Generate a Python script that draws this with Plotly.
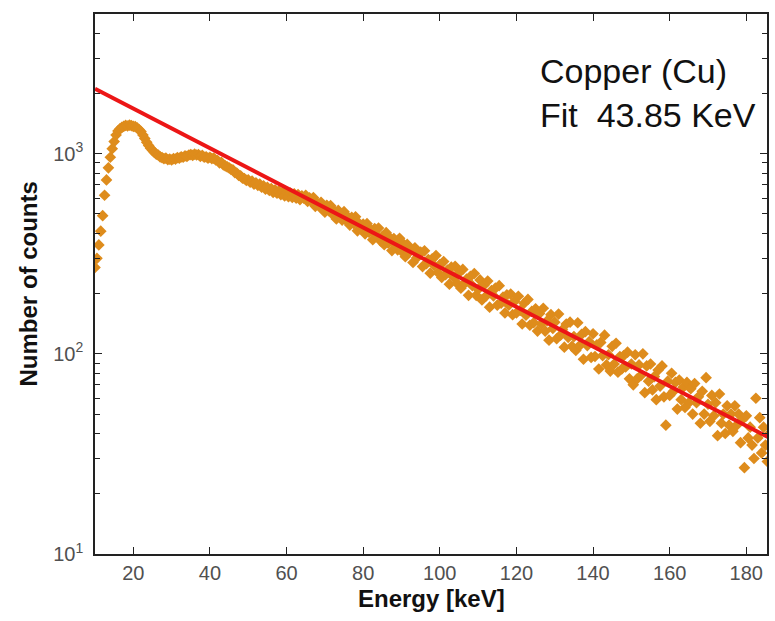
import plotly.graph_objects as go

# ---- data ----
energy_start = 10.0
energy_step = 0.5
counts = [
    270, 300, 350, 410, 490, 620, 740, 850, 960, 1060,
    1150, 1240, 1300, 1330, 1355, 1370, 1385, 1375, 1390, 1380,
    1370, 1365, 1345, 1320, 1290, 1240, 1190, 1140, 1100, 1065,
    1040, 1015, 995, 985, 965, 955, 945, 950, 935, 940,
    930, 945, 940, 955, 950, 965, 960, 975, 970, 985,
    990, 980, 995, 985, 990, 970, 980, 960, 965, 950,
    960, 945, 950, 930, 925, 900, 905, 880, 870, 860,
    850, 835, 830, 805, 800, 780, 775, 755, 750, 735,
    740, 720, 730, 705, 715, 695, 705, 680, 690, 665,
    680, 655, 670, 640, 660, 635, 650, 625, 645, 615,
    640, 610, 635, 605, 630, 600, 625, 590, 615, 600,
    620, 577, 601, 576, 604, 546, 568, 545, 572, 527,
    510, 552, 520, 550, 498, 518, 472, 521, 490, 466,
    513, 465, 483, 440, 481, 448, 484, 412, 447, 420,
    445, 398, 447, 405, 417, 372, 423, 391, 425, 367,
    386, 351, 403, 358, 380, 328, 377, 352, 331, 378,
    326, 354, 306, 352, 322, 332, 286, 339, 302, 313,
    322, 273, 327, 282, 296, 253, 298, 277, 310, 255,
    279, 241, 289, 249, 262, 223, 271, 243, 274, 225,
    254, 213, 264, 225, 236, 196, 244, 219, 252, 196,
    210, 234, 186, 220, 194, 231, 171, 207, 195, 213,
    175, 219, 179, 192, 160, 197, 175, 199, 157, 183,
    160, 194, 165, 141, 179, 156, 187, 139, 163, 143,
    168, 130, 159, 141, 169, 130, 146, 117, 157, 134,
    144, 119, 158, 124, 132, 108, 141, 121, 144, 109,
    122, 104, 143, 110, 125, 94, 129, 110, 115, 96,
    126, 97, 111, 84, 114, 98, 124, 88, 99, 82,
    109, 89, 113, 81, 97, 84, 98, 86, 102, 75,
    89, 70, 99, 75, 88, 78, 100, 64, 87, 73,
    89, 66, 77, 59, 83, 69, 87, 61, 44, 73,
    62, 80, 65, 72, 53, 74, 59, 68, 54, 72,
    57, 67, 50, 71, 57, 61, 45, 65, 50, 76,
    56, 46, 62, 49, 57, 39, 63, 45, 50, 40,
    55, 44, 50, 41, 55, 44, 50, 36, 47, 27,
    49, 38, 43, 35, 30, 60, 38, 48, 32, 43,
    35, 29, 40,
]
energy = [energy_start + energy_step * i for i in range(len(counts))]

fit_energy = [10, 186]
fit_counts = [2111, 38.1]

x_tickvals = [20, 40, 60, 80, 100, 120, 140, 160, 180]
y_tickvals = [10, 100, 1000]
y_ticktext = ["10<sup>1</sup>", "10<sup>2</sup>", "10<sup>3</sup>"]
y_minorvals = [20, 30, 40, 50, 60, 70, 80, 90,
               200, 300, 400, 500, 600, 700, 800, 900,
               2000, 3000, 4000]

label_material = "Copper (Cu)"
label_fit = "Fit\u00a0 43.85 KeV"

# ---- figure ----
fig = go.Figure()
fig.add_trace(go.Scatter(
    x=energy, y=counts, mode="markers",
    marker=dict(symbol="diamond", size=9, color="rgb(222,140,28)",
                line=dict(width=0)),
    showlegend=False,
))
fig.add_trace(go.Scatter(
    x=fit_energy, y=fit_counts, mode="lines",
    line=dict(color="rgb(236,22,22)", width=4),
    showlegend=False,
))

axis_common = dict(
    showline=True, linecolor="#222222", linewidth=1.5,
    mirror="ticks", ticks="inside", ticklen=7, tickwidth=1.2,
    tickcolor="#222222", showgrid=False, zeroline=False,
    tickfont=dict(family="Liberation Sans, Arial", size=20, color="#505050"),
)

fig.update_xaxes(
    range=[10, 185.4], tickmode="array", tickvals=x_tickvals,
    **axis_common,
)
fig.update_yaxes(
    type="log", range=[1, 3.698], tickmode="array",
    tickvals=y_tickvals, ticktext=y_ticktext, ticklabelstandoff=6,
    minor=dict(ticks="inside", ticklen=5, tickwidth=1.2, tickcolor="#222222",
               tickmode="array", tickvals=y_minorvals, showgrid=False),
    **axis_common,
)

title_font = dict(family="Liberation Sans, Arial", size=24, color="#111111")
fig.add_annotation(text="<b>Energy [keV]</b>", xref="paper", yref="paper",
                   x=0.5, y=-0.082, xanchor="center", yanchor="middle",
                   showarrow=False, font=title_font)
fig.add_annotation(text="<b>Number of counts</b>", xref="paper", yref="paper",
                   x=-0.099, y=0.5, xanchor="center", yanchor="middle",
                   textangle=-90, showarrow=False, font=title_font)

label_font = dict(family="Liberation Sans, Arial", size=34, color="#111111")
fig.add_annotation(text=label_material, xref="paper", yref="paper",
                   x=0.659, y=0.894, xanchor="left", yanchor="middle",
                   showarrow=False, font=label_font)
fig.add_annotation(text=label_fit, xref="paper", yref="paper",
                   x=0.659, y=0.813, xanchor="left", yanchor="middle",
                   showarrow=False, font=label_font)

fig.update_layout(
    width=775, height=621,
    margin=dict(l=95, r=6, t=14, b=67),
    paper_bgcolor="white", plot_bgcolor="white",
)

fig.write_html("out.html")
